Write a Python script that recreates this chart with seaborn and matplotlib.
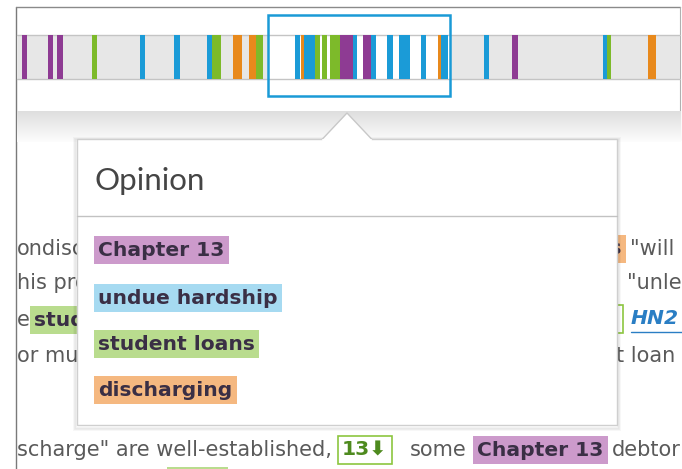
import numpy as np
import matplotlib
matplotlib.use("Agg")
import matplotlib.pyplot as plt
import seaborn as sns
from matplotlib.patches import Rectangle, Polygon

sns.set_style("white")
plt.rcParams['font.family'] = ['DejaVu Sans', 'Noto Sans', 'Noto Sans CJK SC']

# ---- data: term hits along the document timeline (pixel positions) ----
terms = ["Chapter 13", "undue hardship", "student loans", "discharging"]
bar_colors = ["#8e3b93", "#1b9bd7", "#7dba2a", "#e8891c"]
hl_colors = ["#cc9acb", "#a6daf1", "#b9dc8e", "#f5b880"]

hit_start = [22, 48, 57, 92, 140, 174, 207, 212, 233, 249, 256,
             295, 301, 304, 315, 322, 330, 340, 353, 363, 371, 387, 399, 421, 438, 441,
             484, 512, 603, 607, 648]
hit_end = [27, 53, 63, 97, 145, 180, 212, 221, 242, 256, 263,
           300, 304, 315, 320, 327, 340, 353, 357, 371, 376, 393, 410, 426, 441, 448,
           489, 518, 607, 611, 656]
hit_term = [0, 0, 0, 2, 1, 1, 1, 2, 3, 3, 2,
            1, 3, 1, 2, 2, 2, 0, 1, 0, 1, 1, 1, 1, 3, 1,
            1, 0, 1, 2, 3]

window = (268, 450)
popup_title = "Opinion"

# ---- figure in pixel coordinates ----
fig = plt.figure(figsize=(6.82, 4.69), dpi=100)
ax = fig.add_axes([0, 0, 1, 1])
ax.set_xlim(0, 682)
ax.set_ylim(469, 0)
ax.axis('off')

# frame
ax.plot([16, 16], [7, 469], color="#7a7a7a", lw=1.0, zorder=1)
ax.plot([16, 680], [7, 7], color="#8a8a8a", lw=1.0, zorder=1)
ax.plot([680, 680], [7, 140], color="#b0b0b0", lw=0.8, zorder=1)

# strip background
strip_top, strip_h = 35, 44
ax.add_patch(Rectangle((16.5, strip_top), 663, strip_h, fc="#e7e7e7", ec="none", zorder=1))
ax.add_patch(Rectangle((window[0], strip_top), window[1] - window[0], strip_h,
                       fc="white", ec="none", zorder=1.5))
ax.plot([16.5, 680], [strip_top, strip_top], color="#c4c4c4", lw=1.0, zorder=2)
ax.plot([16.5, 680], [strip_top + strip_h, strip_top + strip_h], color="#c4c4c4", lw=1.0, zorder=2)

starts = np.array(hit_start)
widths = np.array(hit_end) - starts
ax.bar(starts, strip_h, width=widths, bottom=strip_top, align='edge',
       color=[bar_colors[t] for t in hit_term], linewidth=0, zorder=3)

# zoom window
ax.add_patch(Rectangle((window[0], 15), window[1] - window[0], 81,
                       fc="none", ec="#1a9ad6", lw=1.8, zorder=4))

# grey shaded band under the strip
grad = np.linspace(0.87, 0.99, 40).reshape(-1, 1)
ax.imshow(grad, cmap="gray", vmin=0, vmax=1, aspect='auto',
          extent=(16.5, 680, 142, 111), zorder=1)

# ---- background document text ----
txt_kw = dict(fontsize=15, color="#5a5a5a", va='center', zorder=2)
bold_kw = dict(fontsize=14.6, color="#3a2f45", va='center', fontweight='bold', zorder=2)

ax.text(17, 249, "ondisch", **txt_kw)
ax.text(622, 249, "dis", ha='right', **bold_kw,
        bbox=dict(boxstyle='square,pad=0.22', fc=hl_colors[3], ec='none'))
ax.text(630, 249, '"will', **txt_kw)
ax.text(17, 283, "his proc", **txt_kw)
ax.text(627, 283, '"unle', **txt_kw)
ax.text(17, 320, "e", **txt_kw)
ax.text(34, 320, "stud", **bold_kw,
        bbox=dict(boxstyle='square,pad=0.22', fc=hl_colors[2], ec='none'))
ax.text(619, 319, "13", ha='right', **bold_kw,
        bbox=dict(boxstyle='square,pad=0.22', fc='white', ec="#8cc63f", lw=1.2))
ax.text(631, 319, "HN2", fontsize=14.6, color="#2a7ec4", va='center',
        fontweight='bold', fontstyle='italic', zorder=2)
ax.plot([631, 682], [332, 332], color="#2a7ec4", lw=1.0, zorder=2)
ax.text(17, 356, "or mus", **txt_kw)
ax.text(616, 356, "t loan", **txt_kw)

ax.text(17, 450, 'scharge" are well-established,', **txt_kw)
ax.text(342, 450, "13\u2B07", fontsize=14.6, color="#4e8a1e", va='center',
        fontweight='bold', zorder=2,
        bbox=dict(boxstyle='square,pad=0.22', fc='white', ec="#8cc63f", lw=1.2))
ax.text(410, 450, "some", **txt_kw)
ax.text(477, 450, "Chapter 13", **bold_kw,
        bbox=dict(boxstyle='square,pad=0.22', fc=hl_colors[0], ec='none'))
ax.text(612, 450, "debtor", **txt_kw)
ax.add_patch(Rectangle((167, 467), 61, 5, fc=hl_colors[2], ec='none', zorder=2))

# ---- popup ----
px0, px1, py0, py1 = 77, 617, 139, 425
for i, a in enumerate([0.05, 0.04, 0.03]):
    ax.add_patch(Rectangle((px0 - 1 - i, py0 - i + 1), px1 - px0 + 2 + 2 * i, py1 - py0 + 2 + 2 * i,
                           fc="none", ec=(0, 0, 0, a), lw=1.5, zorder=5))
ax.add_patch(Rectangle((px0, py0), px1 - px0, py1 - py0, fc="white", ec="#cfcfcf", lw=1.0, zorder=6))
ax.add_patch(Polygon([(322, py0 + 0.5), (347, 113), (372, py0 + 0.5)], closed=False,
                     fc="white", ec="#c8c8c8", lw=1.0, zorder=6))
ax.plot([323, 371], [py0 + 0.8, py0 + 0.8], color="white", lw=1.5, zorder=6.5)
ax.plot([px0, px1], [216, 216], color="#c2c2c2", lw=1.0, zorder=7)

ax.text(95, 181, popup_title, fontsize=22.5, color="#454545", va='center',
        family=['Lato', 'DejaVu Sans'], zorder=7)

item_y = [250, 298, 344, 390]
for term, col, y in zip(terms, hl_colors, item_y):
    ax.text(98, y, term, fontsize=14.6, fontweight='bold', color="#3a2f45", va='center', zorder=7,
            bbox=dict(boxstyle='square,pad=0.22', fc=col, ec='none'))

fig.savefig("out.png", dpi=100)
